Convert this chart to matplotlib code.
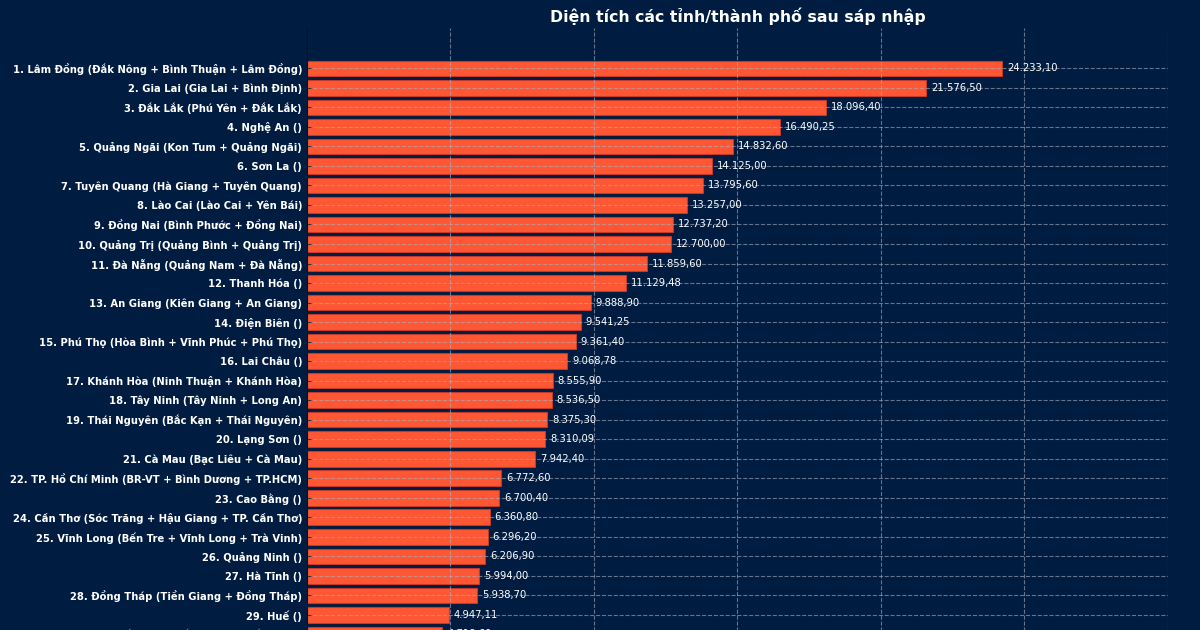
import matplotlib
matplotlib.use("Agg")
import matplotlib.pyplot as plt

provinces = [
    "Lâm Đồng (Đắk Nông + Bình Thuận + Lâm Đồng)",
    "Gia Lai (Gia Lai + Bình Định)",
    "Đắk Lắk (Phú Yên + Đắk Lắk)",
    "Nghệ An ()",
    "Quảng Ngãi (Kon Tum + Quảng Ngãi)",
    "Sơn La ()",
    "Tuyên Quang (Hà Giang + Tuyên Quang)",
    "Lào Cai (Lào Cai + Yên Bái)",
    "Đồng Nai (Bình Phước + Đồng Nai)",
    "Quảng Trị (Quảng Bình + Quảng Trị)",
    "Đà Nẵng (Quảng Nam + Đà Nẵng)",
    "Thanh Hóa ()",
    "An Giang (Kiên Giang + An Giang)",
    "Điện Biên ()",
    "Phú Thọ (Hòa Bình + Vĩnh Phúc + Phú Thọ)",
    "Lai Châu ()",
    "Khánh Hòa (Ninh Thuận + Khánh Hòa)",
    "Tây Ninh (Tây Ninh + Long An)",
    "Thái Nguyên (Bắc Kạn + Thái Nguyên)",
    "Lạng Sơn ()",
    "Cà Mau (Bạc Liêu + Cà Mau)",
    "TP. Hồ Chí Minh (BR-VT + Bình Dương + TP.HCM)",
    "Cao Bằng ()",
    "Cần Thơ (Sóc Trăng + Hậu Giang + TP. Cần Thơ)",
    "Vĩnh Long (Bến Tre + Vĩnh Long + Trà Vinh)",
    "Quảng Ninh ()",
    "Hà Tĩnh ()",
    "Đồng Tháp (Tiền Giang + Đồng Tháp)",
    "Huế ()",
    "Bắc Ninh (Bắc Giang + Bắc Ninh)",
    "Ninh Bình (Hà Nam + Nam Định + Ninh Bình)",
    "Hà Nội ()",
    "Hải Phòng (Hải Dương + Hải Phòng)",
    "Hưng Yên (Thái Bình + Hưng Yên)",
]
areas = [
    24233.10, 21576.50, 18096.40, 16490.25, 14832.60, 14125.00, 13795.60,
    13257.00, 12737.20, 12700.00, 11859.60, 11129.48, 9888.90, 9541.25,
    9361.40, 9068.78, 8555.90, 8536.50, 8375.30, 8310.09, 7942.40,
    6772.60, 6700.40, 6360.80, 6296.20, 6206.90, 5994.00, 5938.70,
    4947.11, 4718.60, 3942.60, 3359.80, 3194.70, 2514.80,
]
title = "Diện tích các tỉnh/thành phố sau sáp nhập"

BG = "#001c40"
BAR = "#ff5733"

labels = [f"{i+1}. {p}" for i, p in enumerate(provinces)]

def fmt(v):
    s = f"{v:,.2f}"
    return s.replace(",", "X").replace(".", ",").replace("X", ".")

fig = plt.figure(figsize=(12, 6.3), dpi=100, facecolor=BG)
ax = fig.add_axes([0.2558, -0.1957, 0.9733 - 0.2558, 0.9563 + 0.1957])
ax.set_facecolor(BG)

y = list(range(len(labels)))
bars = ax.barh(y, areas, height=0.8, color=BAR, edgecolor="#c0392b", linewidth=0.8, zorder=2)
ax.set_yticks(y)
ax.set_yticklabels(labels, color="white", fontweight="bold", fontsize=7.2)
ax.invert_yaxis()
ax.set_xlim(0, 30000)
ax.set_xticks(range(0, 30001, 5000))
ax.grid(True, color="#a8b0c0", linestyle="--", linewidth=0.8, alpha=0.6, zorder=3)
ax.set_axisbelow(False)
for b, v in zip(bars, areas):
    ax.text(b.get_width() + 170, b.get_y() + b.get_height() / 2, fmt(v),
            va="center", ha="left", color="white", fontsize=7.2, zorder=4)

for s in ["top", "right", "bottom"]:
    ax.spines[s].set_visible(False)
ax.spines["left"].set_color("#111111")
ax.spines["left"].set_zorder(5)
ax.tick_params(axis="y", colors="#333333", length=3, direction="in", labelcolor="white")
ax.tick_params(axis="x", colors="white")
ax.set_title(title, color="white", fontweight="bold", fontsize=11.3, pad=4)

fig.savefig("out.png", facecolor=BG)
